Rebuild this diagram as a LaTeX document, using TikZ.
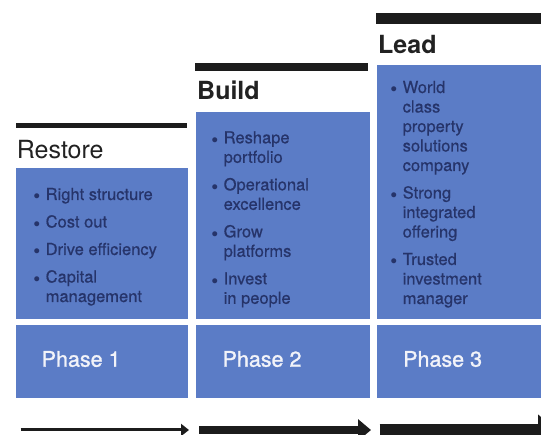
\documentclass[tikz,border=0pt]{standalone}
\usepackage{fontspec}
\setmainfont{TeX Gyre Heros}
\newfontfamily\phasefont[FakeBold=1.4]{TeX Gyre Heros}
\newfontfamily\listfont[FakeBold=0.6]{TeX Gyre Heros}
\usetikzlibrary{arrows.meta}

\definecolor{panelblue}{HTML}{5B7CC6}
\definecolor{listnavy}{HTML}{26346A}
\definecolor{phasetext}{HTML}{F2F3F9}
\definecolor{barblack}{HTML}{1C1C1C}
\definecolor{headgray}{HTML}{222222}

% bullet lists: one \hbox per printed line, first baseline on top
\newcommand\bitem[1]{\hbox{\makebox[11.5pt][l]{\kern-0.5pt\scalebox{0.75}{$\bullet$}}#1}}
\newcommand\cont[1]{\hbox{\kern11.5pt #1}}
\newcommand\igap{\vskip 8pt}

\tikzset{
  panel/.style={fill=panelblue},
  topbar/.style={draw=barblack, line cap=butt},
  heading/.style={anchor=base west, inner sep=0, text=headgray, font=\fontsize{25}{25}\selectfont},
  boldheading/.style={heading, font=\fontsize{25}{25}\selectfont\bfseries},
  itemlist/.style={anchor=base west, inner sep=0, text=listnavy, font=\listfont\fontsize{16.5}{19.5}\selectfont},
  phaselabel/.style={anchor=base west, inner sep=0, text=phasetext, font=\phasefont\fontsize{21.5}{21.5}\selectfont},
  progress/.style={draw=barblack, line cap=butt},
}

\begin{document}
\begin{tikzpicture}[x=1pt, y=-1pt]
  \useasboundingbox (0,0) rectangle (541,435);
  \fill[white] (0,0) rectangle (541,435);

  % heading bars, thicker from stage to stage
  \draw[topbar, line width=5pt]  (16,126)  -- (187,126);
  \draw[topbar, line width=8pt]  (195,67.5) -- (368,67.5);
  \draw[topbar, line width=11pt] (376,19)  -- (545,19);

  % stage headings
  \node[heading]     (restore) at (16.7,158.3) {Restore};
  \node[boldheading] (build)   at (197,100)    {Build};
  \node[boldheading] (lead)    at (378,53.3)   {Lead};

  % content panels
  \fill[panel] (16,168) rectangle (188,319);
  \fill[panel] (196,112) rectangle (370,319);
  \fill[panel] (377,65) rectangle (545,319);

  % phase panels
  \fill[panel] (16,325) rectangle (188,398);
  \fill[panel] (196,325) rectangle (370,398);
  \fill[panel] (377,325) rectangle (545,398);

  % bullet lists
  \node[itemlist] (list1) at (34,200) {\vtop{%
    \bitem{Right structure}\igap
    \bitem{Cost out}\igap
    \bitem{Drive efficiency}\igap
    \bitem{Capital}\cont{management}}};
  \node[itemlist] (list2) at (212,143.3) {\vtop{%
    \bitem{Reshape}\cont{portfolio}\igap
    \bitem{Operational}\cont{excellence}\igap
    \bitem{Grow}\cont{platforms}\igap
    \bitem{Invest}\cont{in people}}};
  \node[itemlist] (list3) at (391,93) {\vtop{%
    \bitem{World}\cont{class}\cont{property}\cont{solutions}\cont{company}\igap
    \bitem{Strong}\cont{integrated}\cont{offering}\igap
    \bitem{Trusted}\cont{investment}\cont{manager}}};

  % phase labels
  \node[phaselabel] (phase1) at (41.5,366.7) {Phase 1};
  \node[phaselabel] (phase2) at (222.4,366.7) {Phase 2};
  \node[phaselabel] (phase3) at (403,366.7) {Phase 3};

  % progress arrows
  \coordinate (a1s) at (20.7,430);  \coordinate (a1e) at (189,430);
  \coordinate (a2s) at (199.4,430); \coordinate (a2e) at (371,430);
  \coordinate (a3s) at (379.6,430); \coordinate (a3e) at (556,430);
  \draw[progress, line width=3pt,   -{Triangle[length=8pt, width=12pt]}]  (a1s) -- (a1e);
  \draw[progress, line width=7.5pt, -{Triangle[length=13pt, width=21pt]}] (a2s) -- (a2e);
  \draw[progress, line width=12pt,  -{Triangle[length=18pt, width=30pt]}] (a3s) -- (a3e);
\end{tikzpicture}
\end{document}
